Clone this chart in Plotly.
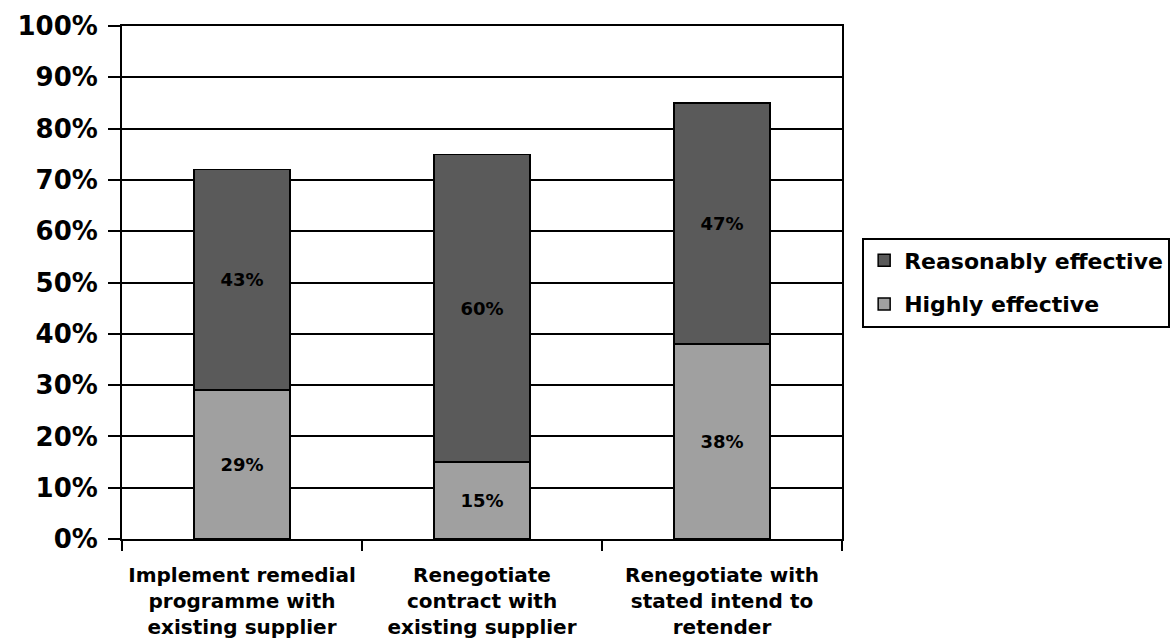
import plotly.graph_objects as go

categories = [
    "Implement remedial<br>programme with<br>existing supplier",
    "Renegotiate<br>contract with<br>existing supplier",
    "Renegotiate with<br>stated intend to<br>retender",
]
highly_effective = [29, 15, 38]
reasonably_effective = [43, 60, 47]
y_ticks = list(range(0, 101, 10))
y_tick_labels = [f"{v}%" for v in y_ticks]

FONT = "DejaVu Sans"
DARK = "#5a5a5a"
LIGHT = "#a0a0a0"

fig = go.Figure()
fig.add_trace(go.Bar(
    name="Highly effective",
    legendgroup="high",
    legendrank=2,
    x=categories,
    y=highly_effective,
    marker=dict(color=LIGHT, line=dict(color="black", width=1.5)),
    text=[f"{v}%" for v in highly_effective],
    textposition="inside",
    insidetextanchor="middle",
    textangle=0,
    textfont=dict(family=FONT, size=18, color="black", weight="bold"),
    width=0.4,
))
fig.add_trace(go.Bar(
    name="Reasonably effective",
    legendgroup="reasonable",
    legendrank=1,
    x=categories,
    y=reasonably_effective,
    marker=dict(color=DARK, line=dict(color="black", width=1.5)),
    text=[f"{v}%" for v in reasonably_effective],
    textposition="inside",
    insidetextanchor="middle",
    textangle=0,
    textfont=dict(family=FONT, size=18, color="black", weight="bold"),
    width=0.4,
))

fig.update_layout(
    barmode="stack",
    width=1174,
    height=643,
    margin=dict(l=122, r=332, t=26, b=104, autoexpand=False),
    paper_bgcolor="white",
    plot_bgcolor="white",
    font=dict(family=FONT, color="black"),
    showlegend=True,
    legend=dict(
        traceorder="grouped",
        tracegroupgap=12,
        x=1.028, xanchor="left",
        y=0.50, yanchor="middle",
        bordercolor="black",
        borderwidth=2,
        font=dict(family=FONT, size=22, color="black", weight="bold"),
        itemwidth=30,
    ),
    xaxis=dict(
        type="category",
        automargin=False,
        tickangle=0,
        showline=True,
        linecolor="black",
        linewidth=2,
        mirror=True,
        ticks="outside",
        tickson="boundaries",
        ticklen=10,
        tickwidth=2,
        tickcolor="black",
        showgrid=False,
        ticklabelstandoff=17,
        tickfont=dict(family=FONT, size=20, color="black", weight="bold"),
    ),
    yaxis=dict(
        automargin=False,
        range=[0, 100],
        tickvals=y_ticks,
        ticktext=y_tick_labels,
        showline=True,
        linecolor="black",
        linewidth=2,
        mirror=True,
        ticks="outside",
        ticklen=12,
        tickwidth=2,
        tickcolor="black",
        showgrid=True,
        gridcolor="black",
        gridwidth=1.5,
        zeroline=False,
        ticklabelstandoff=5,
        tickfont=dict(family=FONT, size=26, color="black", weight="bold"),
    ),
)

fig.write_html("out.html")
